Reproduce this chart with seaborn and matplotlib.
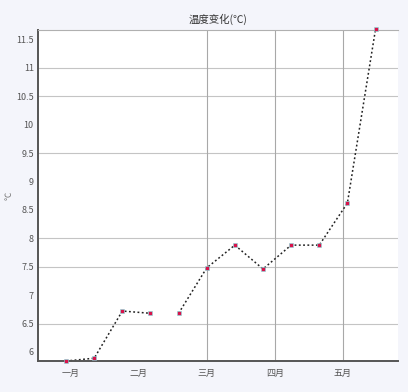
import matplotlib
matplotlib.use("Agg")
import matplotlib.pyplot as plt
import seaborn as sns
import pandas as pd

# Sample day (offset from the first reading) and measured value
days = [0, 12, 24, 36, 48, 60, 72, 84, 96, 108, 120, 132]
values = [5.84, 5.89, 6.72, 6.68, 6.68, 7.48, 7.88, 7.46, 7.88, 7.88, 8.62, 11.68]
# the trace is interrupted between the 4th and 5th reading
segment = [0, 0, 0, 0, 1, 1, 1, 1, 1, 1, 1, 1]

tick_days = [2, 31, 60, 89, 118]
tick_names = ["一月", "二月", "三月", "四月", "五月"]
y_ticks = [6.0, 6.5, 7.0, 7.5, 8.0, 8.5, 9.0, 9.5, 10.0, 10.5, 11.0, 11.5]
y_grid = [6.5, 7.5, 8.0, 9.5, 10.5, 11.0]
x_grid = [60, 89, 118]
title = "温度变化(℃)"

df = pd.DataFrame({"day": days, "value": values, "segment": segment})

sns.set_style("white")
plt.rcParams["font.family"] = ["Noto Sans CJK SC", "DejaVu Sans"]

fig = plt.figure(figsize=(4.08, 3.92), dpi=100, facecolor="#f4f5fb")
ax = fig.add_axes([0.093, 0.079, 0.882, 0.845])
ax.set_facecolor("white")

for gy in y_grid:
    ax.axhline(gy, color="#c4c4c4", lw=0.8, zorder=0)
for gx in x_grid:
    ax.axvline(gx, color="#a8a8a8", lw=0.8, zorder=0)

sns.lineplot(data=df, x="day", y="value", units="segment", estimator=None,
             color="#222222", lw=1.1, linestyle=(0, (1.2, 1.6)), ax=ax,
             legend=False, clip_on=False)
sns.scatterplot(data=df, x="day", y="value", marker="s", s=10,
                color="#d8124a", edgecolor="#7fe0e0", linewidth=0.4,
                ax=ax, zorder=5, clip_on=False, legend=False)

ax.set_xlim(-12, 141.5)
ax.set_ylim(5.84, 11.67)
ax.set_xticks(tick_days)
ax.set_xticklabels(tick_names)
ax.set_yticks(y_ticks)
ax.set_yticklabels([f"{v:g}" if v != int(v) else f"{int(v)}" for v in y_ticks])
ax.tick_params(axis="both", labelsize=6.5, colors="#555555", direction="in",
               length=3, width=0.8, pad=3)
ax.tick_params(axis="x", pad=6)

ax.set_xlabel("")
ax.set_ylabel("℃", fontsize=6, color="#777777", labelpad=2)
ax.set_title(title, fontsize=7.5, color="#333333", pad=5)

for side in ["left", "bottom"]:
    ax.spines[side].set_color("#555555")
    ax.spines[side].set_linewidth(1.4)
ax.spines["top"].set_color("#b0b0b0")
ax.spines["top"].set_linewidth(0.8)
ax.spines["right"].set_visible(False)

fig.savefig("out.png", dpi=100, facecolor=fig.get_facecolor())
